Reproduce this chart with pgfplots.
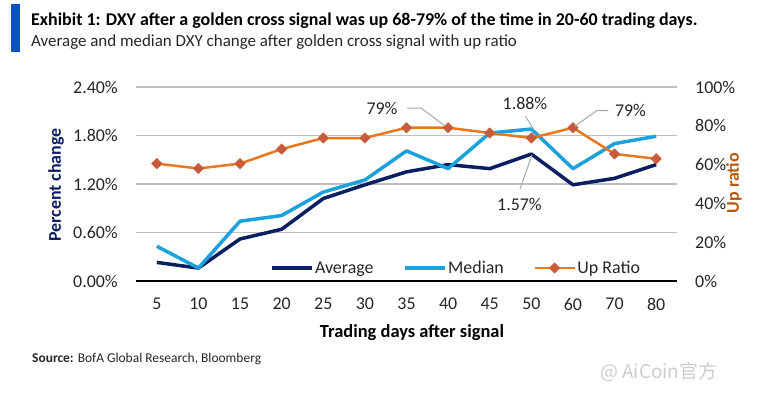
\documentclass[border=0pt]{standalone}
\usepackage{pgfplots}
\pgfplotsset{compat=1.18}
\usepackage{fontspec}
\setmainfont{Carlito}
\newfontfamily\cjk{Noto Sans CJK SC}
\definecolor{navy}{HTML}{0A1F62}
\definecolor{medblue}{HTML}{1BA1DB}
\definecolor{uporange}{HTML}{E8771E}
\definecolor{upmark}{HTML}{C75B3B}
\definecolor{uplabel}{HTML}{B55A0F}
\definecolor{gridgray}{HTML}{BFBFBF}
\definecolor{barblue}{HTML}{0B52C4}
\definecolor{txt}{HTML}{262626}
\definecolor{leader}{HTML}{A6A6A6}
\begin{document}
\begin{tikzpicture}
\path[use as bounding box] (0,0) rectangle (759bp,-395bp);
\begin{axis}[
  at={(136bp,-281bp)}, anchor=south west,
  scale only axis, width=541bp, height=194bp,
  xmin=-0.5, xmax=12.5, ymin=0, ymax=2.4,
  axis x line*=bottom, axis y line*=left,
  y axis line style={draw=none},
  x axis line style={black, line width=1.4bp, -},
  major tick length=0,
  ymajorgrids, grid style={gridgray, line width=1.2bp},
  xtick={0,...,12}, xticklabels={5,10,15,20,25,30,35,40,45,50,60,70,80},
  ytick={0,0.6,1.2,1.8,2.4}, yticklabels={0.00\%,0.60\%,1.20\%,1.80\%,2.40\%},
  tick label style={font=\fontsize{18}{20}\selectfont, text=txt},
  yticklabel style={anchor=east, inner sep=0pt, xshift=-18bp},
  xticklabel style={anchor=north, inner sep=0pt, yshift=-17bp},
]
\addplot[navy, line width=3.5bp, line join=round] coordinates {(0,0.23)(1,0.16)(2,0.52)(3,0.64)(4,1.02)(5,1.19)(6,1.35)(7,1.44)(8,1.39)(9,1.57)(10,1.19)(11,1.27)(12,1.44)};
\addplot[medblue, line width=3.5bp, line join=round] coordinates {(0,0.43)(1,0.16)(2,0.74)(3,0.81)(4,1.10)(5,1.25)(6,1.61)(7,1.39)(8,1.83)(9,1.88)(10,1.39)(11,1.70)(12,1.79)};
\end{axis}
\begin{axis}[
  at={(136bp,-281bp)}, anchor=south west,
  scale only axis, width=541bp, height=194bp,
  xmin=-0.5, xmax=12.5, ymin=0, ymax=100,
  axis x line=none, axis y line*=right,
  y axis line style={draw=none},
  major tick length=0,
  ytick={0,20,40,60,80,100}, yticklabels={0\%,20\%,40\%,60\%,80\%,100\%},
  tick label style={font=\fontsize{18}{20}\selectfont, text=txt},
  yticklabel style={anchor=west, inner sep=0pt, xshift=18bp},
  legend columns=-1,
  legend image code/.code={\draw[mark repeat=2,mark phase=2,#1] plot coordinates {(0bp,0bp) (20bp,0bp) (40bp,0bp)};},
  legend style={at={(0.2477,0.067)}, anchor=west, draw=none, fill=none, inner sep=0pt, outer sep=0pt,
    font=\fontsize{18}{20}\selectfont, text=txt, nodes={inner sep=1.5bp},
    /tikz/every even column/.append style={column sep=28bp}},
]
\addlegendimage{navy, line width=3.5bp}
\addlegendentry{Average}
\addlegendimage{medblue, line width=3.5bp}
\addlegendentry{Median}
\addplot[uporange, line width=2.5bp, line join=round, mark=square*, mark size=3.7bp, mark options={rotate=45, fill=upmark, draw=upmark, line width=0.5bp}] coordinates {(0,60.5)(1,58)(2,60.5)(3,68)(4,73.7)(5,73.7)(6,79)(7,79)(8,76.3)(9,73.7)(10,79)(11,65.5)(12,63)};
\addlegendentry{Up Ratio}
\end{axis}
% annotations
\begin{scope}[leader, line width=1bp]
\draw (407bp,-108bp) -- (421bp,-108bp) -- (445bp,-126bp);
\draw (525.5bp,-116.5bp) -- (534bp,-130bp);
\draw (608bp,-110.5bp) -- (597bp,-110.5bp) -- (574.5bp,-126.5bp);
\draw (520bp,-189bp) -- (532bp,-155bp);
\end{scope}
\begin{scope}[every node/.style={font=\fontsize{18}{20}\selectfont, text=txt, inner sep=0pt}]
\node at (382bp,-108.5bp) {79\%};
\node at (525bp,-103.5bp) {1.88\%};
\node at (630.5bp,-110.5bp) {79\%};
\node at (519.5bp,-204bp) {1.57\%};
\end{scope}
% axis titles
\node[rotate=90, font=\fontsize{18}{20}\selectfont\bfseries, text=navy, inner sep=0pt] at (56bp,-185bp) {Percent change};
\node[rotate=90, font=\fontsize{18}{20}\selectfont\bfseries, text=uplabel, inner sep=0pt] at (734bp,-183bp) {Up ratio};
\node[font=\fontsize{18.5}{20}\selectfont\bfseries, text=black, inner sep=0pt] at (412bp,-333bp) {Trading days after signal};
% title block
\fill[barblue] (11bp,-4bp) rectangle (20bp,-52bp);
\node[anchor=base west, inner sep=0pt, font=\fontsize{18}{20}\selectfont\bfseries, text=black] at (31bp,-25bp) {Exhibit 1: DXY after a golden cross signal was up 68-79\% of the time in 20-60 trading days.};
\node[anchor=base west, inner sep=0pt, font=\fontsize{17}{20}\selectfont, text=txt] at (31bp,-46bp) {Average and median DXY change after golden cross signal with up ratio};
\node[anchor=base west, inner sep=0pt, font=\fontsize{13.5}{16}\selectfont, text=txt] at (32bp,-362bp) {\textbf{Source:} BofA Global Research, Bloomberg};
\node[anchor=base west, inner sep=0pt, font=\fontsize{19}{22}\selectfont\cjk, text=black!20] at (600bp,-378bp) {@ AiCoin官方};
\end{tikzpicture}
\end{document}
